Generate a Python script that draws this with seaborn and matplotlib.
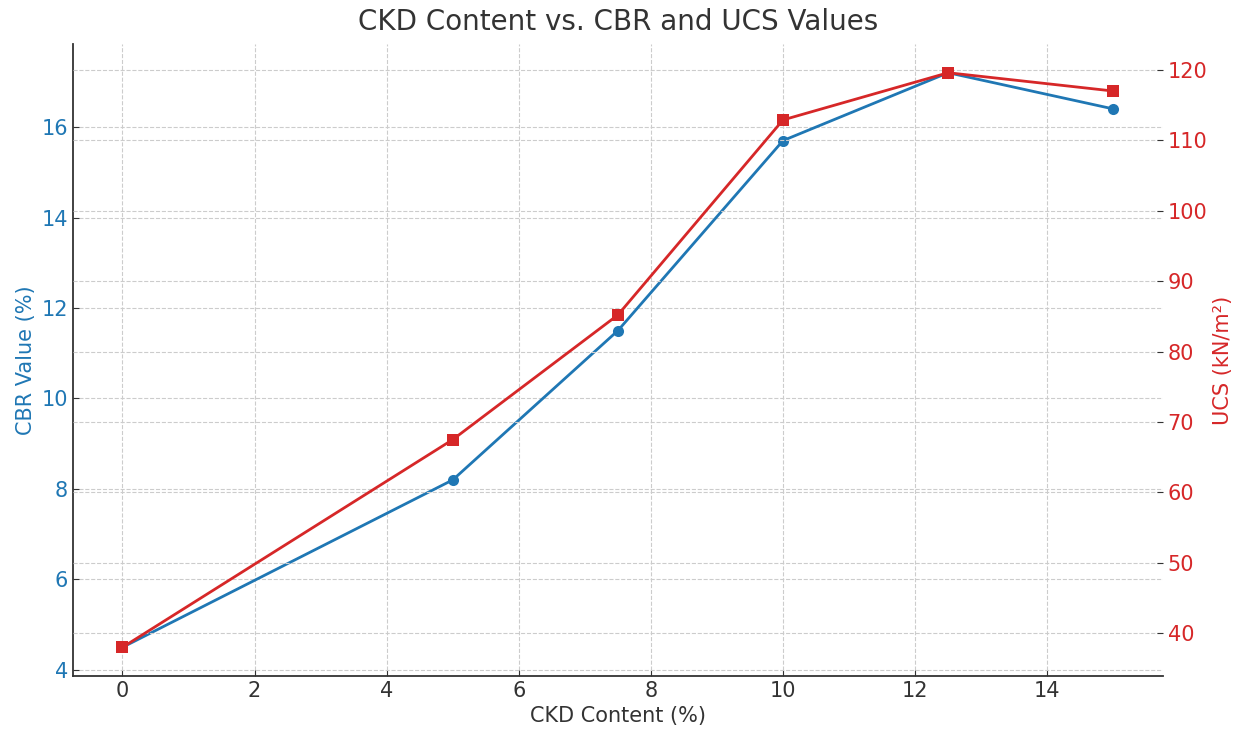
import matplotlib
matplotlib.use("Agg")
import matplotlib.pyplot as plt
import seaborn as sns
import pandas as pd

# data
ckd_content = [0, 5, 7.5, 10, 12.5, 15]
cbr_values = [4.5, 8.2, 11.5, 15.7, 17.2, 16.4]
ucs_values = [38.0, 67.5, 85.2, 112.9, 119.6, 117.0]

df = pd.DataFrame({"ckd": ckd_content, "cbr": cbr_values, "ucs": ucs_values})

blue = "#1f77b4"
red = "#d62728"
dark = "#333333"

sns.set_style("ticks", {
    "axes.grid": True,
    "grid.color": "#cccccc",
    "grid.linestyle": "--",
    "xtick.direction": "in",
    "ytick.direction": "in",
    "axes.edgecolor": dark,
})
plt.rcParams["font.family"] = ["DejaVu Sans"]

fig = plt.figure(figsize=(12.47, 7.31), dpi=100)
ax1 = fig.add_axes([0.0585, 0.0752, 0.874, 0.8646])

# CBR on the left axis
sns.lineplot(data=df, x="ckd", y="cbr", ax=ax1, color=blue, marker="o",
             markersize=8, linewidth=2, markeredgewidth=0)
ax1.set_xlabel("CKD Content (%)", fontsize=15, color=dark)
ax1.set_ylabel("CBR Value (%)", fontsize=15, color=blue)
ax1.tick_params(axis="y", labelcolor=blue, labelsize=15, length=4, color=dark)
ax1.tick_params(axis="x", labelcolor=dark, labelsize=15, length=4, color=dark)
ax1.grid(True, linestyle="--", color="#cccccc", linewidth=0.8)
for side in ["top", "right"]:
    ax1.spines[side].set_visible(False)
ax1.spines["left"].set_linewidth(1.3)
ax1.spines["bottom"].set_linewidth(1.3)

# UCS on the right axis
ax2 = ax1.twinx()
sns.lineplot(data=df, x="ckd", y="ucs", ax=ax2, color=red, marker="s",
             markersize=8, linewidth=2, markeredgewidth=0)
ax2.set_ylabel("UCS (kN/m²)", fontsize=15, color=red)
ax2.tick_params(axis="y", labelcolor=red, labelsize=15, length=4, color=dark,
                direction="in")
ax2.grid(True, axis="y", linestyle="--", color="#cccccc", linewidth=0.8)
for side in ["top", "right", "left", "bottom"]:
    ax2.spines[side].set_visible(False)

ax1.set_title("CKD Content vs. CBR and UCS Values", fontsize=20, color=dark, pad=10)

fig.savefig("out.png", dpi=100)
